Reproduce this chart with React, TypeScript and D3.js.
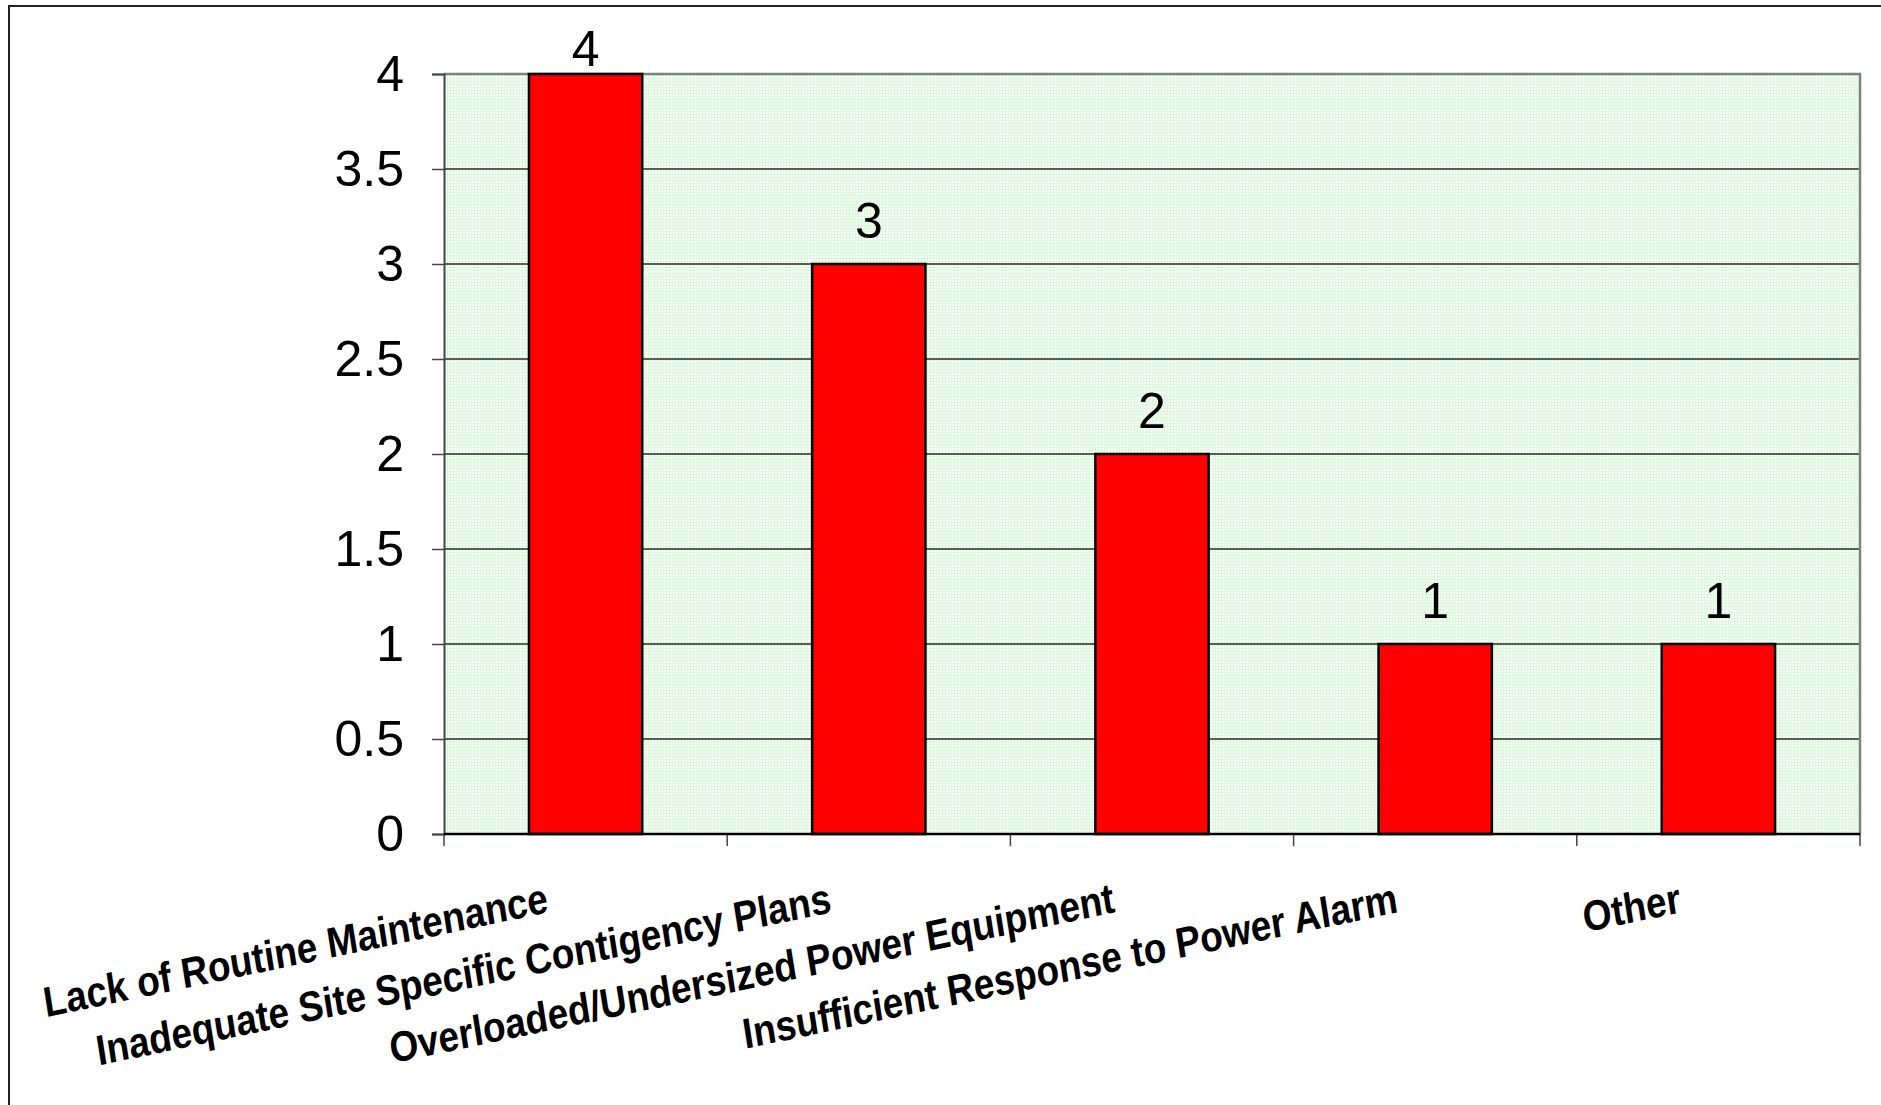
import { useEffect, useRef } from 'react';
import * as d3 from 'd3';

// chart data
const categories = [
  'Lack of Routine Maintenance',
  'Inadequate Site Specific Contigency Plans',
  'Overloaded/Undersized Power Equipment',
  'Insufficient Response to Power Alarm',
  'Other',
];
const counts = [4, 3, 2, 1, 1];
const yTicks = [0, 0.5, 1, 1.5, 2, 2.5, 3, 3.5, 4];

export default function App() {
  const svgRef = useRef<SVGSVGElement>(null);

  useEffect(() => {
    if (!svgRef.current) return;
    d3.select(svgRef.current).selectAll('*').remove();

    const W = 1881;
    const H = 1105;
    const plot = { left: 444, right: 1860, top: 74, bottom: 834 };
    const font = "'Liberation Sans', Arial, sans-serif";

    const svg = d3.select(svgRef.current).attr('width', W).attr('height', H);

    // fine green grid paper pattern for the plot background
    const defs = svg.append('defs');
    const pat = defs
      .append('pattern')
      .attr('id', 'paper')
      .attr('patternUnits', 'userSpaceOnUse')
      .attr('width', 3)
      .attr('height', 3);
    pat.append('rect').attr('width', 3).attr('height', 3).attr('fill', '#f6fff6');
    pat.append('rect').attr('width', 3).attr('height', 1).attr('fill', '#dcf8dc');
    pat.append('rect').attr('width', 1).attr('height', 3).attr('fill', '#dcf8dc');

    svg.append('rect').attr('width', W).attr('height', H).attr('fill', '#fff');

    // outer chart frame (only left and top edges are inside the picture)
    svg
      .append('rect')
      .attr('x', 9)
      .attr('y', 6)
      .attr('width', W + 20)
      .attr('height', H + 20)
      .attr('fill', 'none')
      .attr('stroke', '#222')
      .attr('stroke-width', 2);

    const x = d3
      .scaleBand<string>()
      .domain(categories)
      .range([plot.left, plot.right])
      .paddingInner(0.6)
      .paddingOuter(0.3);
    const y = d3.scaleLinear().domain([0, 4]).range([plot.bottom, plot.top]);

    svg
      .append('rect')
      .attr('x', plot.left)
      .attr('y', plot.top)
      .attr('width', plot.right - plot.left)
      .attr('height', plot.bottom - plot.top)
      .attr('fill', 'url(#paper)');

    // horizontal gridlines
    svg
      .append('g')
      .selectAll('line')
      .data(yTicks.filter((t) => t > 0 && t < 4))
      .enter()
      .append('line')
      .attr('x1', plot.left)
      .attr('x2', plot.right)
      .attr('y1', (d) => y(d))
      .attr('y2', (d) => y(d))
      .attr('stroke', '#2a2a2a')
      .attr('stroke-width', 1.3);

    // plot border top and right (gray)
    svg
      .append('path')
      .attr('d', `M${plot.left},${plot.top}H${plot.right}V${plot.bottom}`)
      .attr('fill', 'none')
      .attr('stroke', '#808080')
      .attr('stroke-width', 2.5);

    // bars
    svg
      .append('g')
      .selectAll('rect')
      .data(categories)
      .enter()
      .append('rect')
      .attr('x', (d) => x(d)!)
      .attr('y', (d, i) => y(counts[i]))
      .attr('width', x.bandwidth())
      .attr('height', (d, i) => y(0) - y(counts[i]))
      .attr('fill', '#ff0000')
      .attr('stroke', '#000')
      .attr('stroke-width', 2.5);

    // value labels (the tallest one gets pushed down to stay inside the chart)
    svg
      .append('g')
      .selectAll('text')
      .data(categories)
      .enter()
      .append('text')
      .attr('x', (d) => x(d)! + x.bandwidth() / 2)
      .attr('y', (d, i) => Math.max(y(counts[i]) - 26, plot.top - 8))
      .attr('text-anchor', 'middle')
      .style('font-family', font)
      .style('font-size', '50px')
      .style('fill', '#000')
      .text((d, i) => String(counts[i]));

    // y axis
    const yAxis = svg
      .append('g')
      .attr('transform', `translate(${plot.left},0)`)
      .call(
        d3
          .axisLeft(y)
          .tickValues(yTicks)
          .tickSize(12)
          .tickPadding(28)
          .tickFormat((d) => String(d))
      );
    yAxis.select('.domain').attr('stroke', '#444').attr('stroke-width', 2);
    yAxis.selectAll('.tick line').attr('stroke', '#444').attr('stroke-width', 1.5);
    yAxis
      .selectAll('.tick text')
      .style('font-family', font)
      .style('font-size', '50px')
      .style('fill', '#000');

    // x axis: ticks at category boundaries
    const step = x.step();
    const bounds = d3.range(categories.length + 1).map((i) => plot.left + i * step);
    svg
      .append('g')
      .selectAll('line')
      .data(bounds)
      .enter()
      .append('line')
      .attr('x1', (d) => d)
      .attr('x2', (d) => d)
      .attr('y1', plot.bottom)
      .attr('y2', plot.bottom + 12)
      .attr('stroke', '#444')
      .attr('stroke-width', 1.5);
    svg
      .append('line')
      .attr('x1', plot.left)
      .attr('x2', plot.right)
      .attr('y1', plot.bottom)
      .attr('y2', plot.bottom)
      .attr('stroke', '#000')
      .attr('stroke-width', 2.5);

    // rotated category labels, stretched vertically like the original
    svg
      .append('g')
      .selectAll('text')
      .data(categories)
      .enter()
      .append('text')
      .attr('transform', (d) => {
        const cx = x(d)! + x.bandwidth() / 2 - 36;
        return `translate(${cx},${plot.bottom + 78}) scale(1,1.15) rotate(-10.3)`;
      })
      .attr('text-anchor', 'end')
      .style('font-family', font)
      .style('font-size', '37px')
      .style('font-weight', 'bold')
      .style('fill', '#000')
      .text((d) => d);
  }, []);

  return (
    <div style={{ position: 'absolute', left: 0, top: 0 }}>
      <svg ref={svgRef} style={{ display: 'block' }} />
    </div>
  );
}
